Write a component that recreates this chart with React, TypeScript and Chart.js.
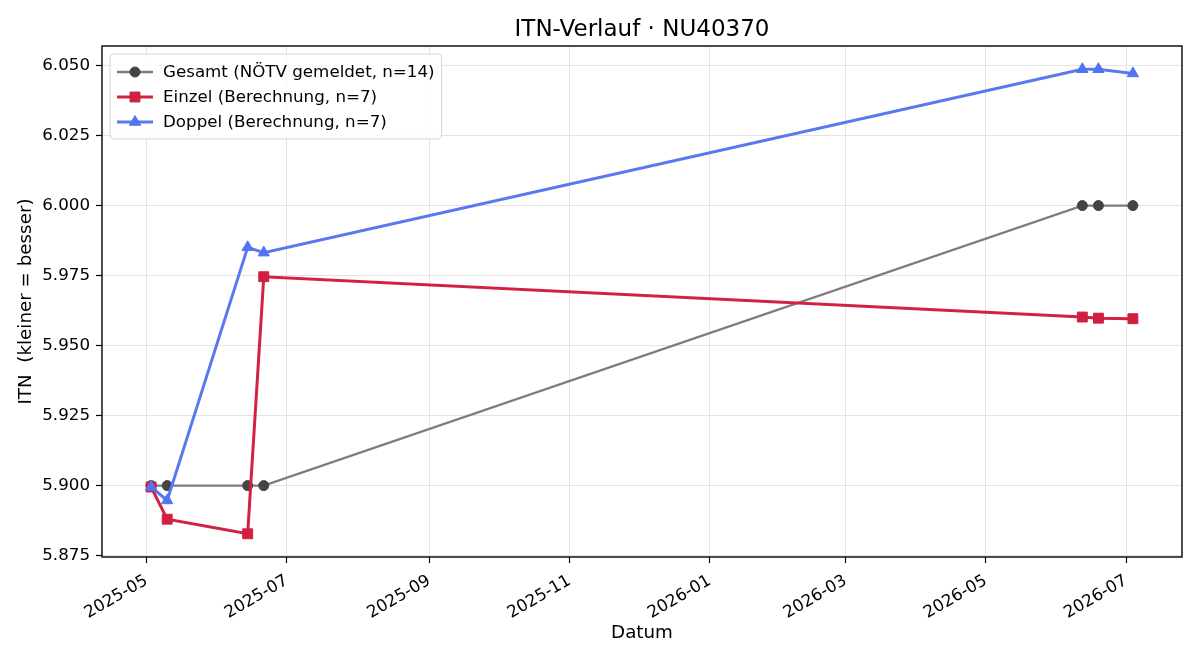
import React, { useEffect, useRef } from 'react';
import { Chart, registerables } from 'chart.js';

Chart.register(...registerables);

// Tournament dates and ITN values per series
const dates = ['2025-05-03', '2025-05-10', '2025-06-14', '2025-06-21', '2026-06-12', '2026-06-19', '2026-07-04'];
const gesamt = [5.9, 5.9, 5.9, 5.9, 6.0, 6.0, 6.0];
const einzel = [5.8995, 5.888, 5.8828, 5.9746, 5.9602, 5.9598, 5.9596];
const doppel = [5.8995, 5.8947, 5.9851, 5.9832, 6.0487, 6.0487, 6.0472];

const yTicks = [5.875, 5.9, 5.925, 5.95, 5.975, 6.0, 6.025, 6.05];
const xTickMonths = ['2025-05', '2025-07', '2025-09', '2025-11', '2026-01', '2026-03', '2026-05', '2026-07'];

const seriesLabels = ['Gesamt (NÖTV gemeldet, n=14)', 'Einzel (Berechnung, n=7)', 'Doppel (Berechnung, n=7)'];
const chartTitle = 'ITN-Verlauf · NU40370';
const xTitle = 'Datum';
const yTitle = 'ITN  (kleiner = besser)';

const FONT = '"DejaVu Sans", "Liberation Sans", sans-serif';
const DAY = 86400000;

const toDay = (s: string) => {
  const [y, m, d] = s.split('-').map(Number);
  return Date.UTC(y, m - 1, d || 1) / DAY;
};
const fmtMonth = (v: number) => {
  const dt = new Date(Math.round(v) * DAY);
  return `${dt.getUTCFullYear()}-${String(dt.getUTCMonth() + 1).padStart(2, '0')}`;
};

const xs = dates.map(toDay);
const withMargin = (vals: number[]) => {
  const lo = Math.min(...vals);
  const hi = Math.max(...vals);
  const m = (hi - lo) * 0.05;
  return [lo - m, hi + m];
};
const [xMin, xMax] = withMargin(xs);
const [yMin, yMax] = withMargin([...gesamt, ...einzel, ...doppel]);

const toPoints = (vals: number[]) => vals.map((y, i) => ({ x: xs[i], y }));

function drawMarker(ctx: CanvasRenderingContext2D, style: string, x: number, y: number, r: number) {
  ctx.beginPath();
  if (style === 'circle') {
    ctx.arc(x, y, r, 0, Math.PI * 2);
  } else if (style === 'rect') {
    const s = Math.SQRT1_2 * r;
    ctx.rect(x - s, y - s, 2 * s, 2 * s);
  } else {
    ctx.moveTo(x, y - r);
    ctx.lineTo(x + r * Math.sin(Math.PI * 2 / 3), y - r * Math.cos(Math.PI * 2 / 3));
    ctx.lineTo(x + r * Math.sin(Math.PI * 4 / 3), y - r * Math.cos(Math.PI * 4 / 3));
    ctx.closePath();
  }
  ctx.fill();
  ctx.stroke();
}

// Title above the axes, frame around the plot area, legend box in the upper left
const decorations = {
  id: 'decorations',
  afterDraw(chart: any) {
    const { ctx, chartArea } = chart;
    const { left, top, right, bottom } = chartArea;
    ctx.save();

    ctx.strokeStyle = '#000';
    ctx.lineWidth = 1.4;
    ctx.strokeRect(left, top, right - left, bottom - top);

    ctx.fillStyle = '#000';
    ctx.font = `23px ${FONT}`;
    ctx.textAlign = 'center';
    ctx.textBaseline = 'alphabetic';
    ctx.fillText(chartTitle, (left + right) / 2, top - 10);

    const datasets = chart.data.datasets;
    ctx.font = `16.7px ${FONT}`;
    const x0 = left + 8;
    const y0 = top + 8;
    const textX = x0 + 53;
    const w = Math.max(...datasets.map((d: any) => ctx.measureText(d.label).width)) + 53 + 7;
    const h = 85;
    const rr = 4;
    ctx.beginPath();
    ctx.moveTo(x0 + rr, y0);
    ctx.lineTo(x0 + w - rr, y0);
    ctx.arcTo(x0 + w, y0, x0 + w, y0 + rr, rr);
    ctx.lineTo(x0 + w, y0 + h - rr);
    ctx.arcTo(x0 + w, y0 + h, x0 + w - rr, y0 + h, rr);
    ctx.lineTo(x0 + rr, y0 + h);
    ctx.arcTo(x0, y0 + h, x0, y0 + h - rr, rr);
    ctx.lineTo(x0, y0 + rr);
    ctx.arcTo(x0, y0, x0 + rr, y0, rr);
    ctx.closePath();
    ctx.fillStyle = 'rgba(255,255,255,0.8)';
    ctx.fill();
    ctx.strokeStyle = '#d6d6d6';
    ctx.lineWidth = 1;
    ctx.stroke();

    datasets.forEach((d: any, i: number) => {
      const cy = y0 + 18 + i * 25;
      ctx.strokeStyle = d.borderColor;
      ctx.lineWidth = d.borderWidth;
      ctx.beginPath();
      ctx.moveTo(x0 + 7, cy);
      ctx.lineTo(x0 + 43, cy);
      ctx.stroke();
      ctx.fillStyle = d.pointBackgroundColor;
      ctx.strokeStyle = d.pointBorderColor;
      ctx.lineWidth = 1;
      drawMarker(ctx, d.pointStyle, x0 + 25, cy, d.pointRadius);
      ctx.fillStyle = '#000';
      ctx.textAlign = 'left';
      ctx.textBaseline = 'middle';
      ctx.fillText(d.label, textX, cy + 1);
    });

    ctx.restore();
  },
};

export default function App() {
  const canvasRef = useRef<HTMLCanvasElement | null>(null);

  useEffect(() => {
    document.body.style.margin = '0';
    const canvas = canvasRef.current;
    if (!canvas) return;
    Chart.defaults.font.family = FONT;
    Chart.defaults.color = '#000';

    const chart = new Chart(canvas, {
      type: 'line',
      data: {
        datasets: [
          {
            label: seriesLabels[0],
            data: toPoints(gesamt),
            borderColor: '#7d7d7d',
            borderWidth: 2.3,
            pointStyle: 'circle',
            pointRadius: 5,
            pointBackgroundColor: '#444444',
            pointBorderColor: '#444444',
            pointBorderWidth: 1,
            order: 3,
          },
          {
            label: seriesLabels[1],
            data: toPoints(einzel),
            borderColor: '#d02342',
            borderWidth: 3,
            pointStyle: 'rect',
            pointRadius: 7,
            pointBackgroundColor: '#cf2040',
            pointBorderColor: '#cf2040',
            pointBorderWidth: 1,
            order: 2,
          },
          {
            label: seriesLabels[2],
            data: toPoints(doppel),
            borderColor: '#5a78f0',
            borderWidth: 3,
            pointStyle: 'triangle',
            pointRadius: 6.5,
            pointBackgroundColor: '#5274f0',
            pointBorderColor: '#5274f0',
            pointBorderWidth: 1,
            order: 1,
          },
        ],
      },
      options: {
        responsive: false,
        animation: false,
        devicePixelRatio: 1,
        layout: { padding: { top: 46, right: 18, bottom: 0, left: 0 } },
        plugins: {
          legend: { display: false },
          title: { display: false },
          tooltip: { enabled: false },
        },
        elements: { line: { tension: 0 } },
        scales: {
          x: {
            type: 'linear',
            min: xMin,
            max: xMax,
            afterFit: (s: any) => { s.height = 103; },
            afterBuildTicks: (s: any) => { s.ticks = xTickMonths.map((m) => ({ value: toDay(m) })); },
            border: { display: false },
            grid: { color: '#e4e4e4', lineWidth: 1, tickLength: 6, tickColor: '#000', tickWidth: 1.2 },
            ticks: {
              autoSkip: false,
              minRotation: 30,
              maxRotation: 30,
              padding: 8,
              font: { size: 16.7 },
              callback: (v: any) => fmtMonth(Number(v)),
            },
            title: { display: true, text: xTitle, font: { size: 18.3 }, padding: { top: 0, bottom: 16 } },
          },
          y: {
            type: 'linear',
            min: yMin,
            max: yMax,
            afterFit: (s: any) => { s.width = 102; },
            afterBuildTicks: (s: any) => { s.ticks = yTicks.map((v) => ({ value: v })); },
            border: { display: false },
            grid: { color: '#e4e4e4', lineWidth: 1, tickLength: 6, tickColor: '#000', tickWidth: 1.2 },
            ticks: {
              padding: 6,
              font: { size: 16.7 },
              callback: (v: any) => Number(v).toFixed(3),
            },
            title: { display: true, text: yTitle, font: { size: 18.3 }, padding: { top: 15, bottom: 0 } },
          },
        },
      },
      plugins: [decorations],
    });

    return () => chart.destroy();
  }, []);

  return (
    <div style={{ position: 'absolute', left: 0, top: 0, width: 1200, height: 660, background: '#fff' }}>
      <canvas ref={canvasRef} width={1200} height={660} />
    </div>
  );
}
